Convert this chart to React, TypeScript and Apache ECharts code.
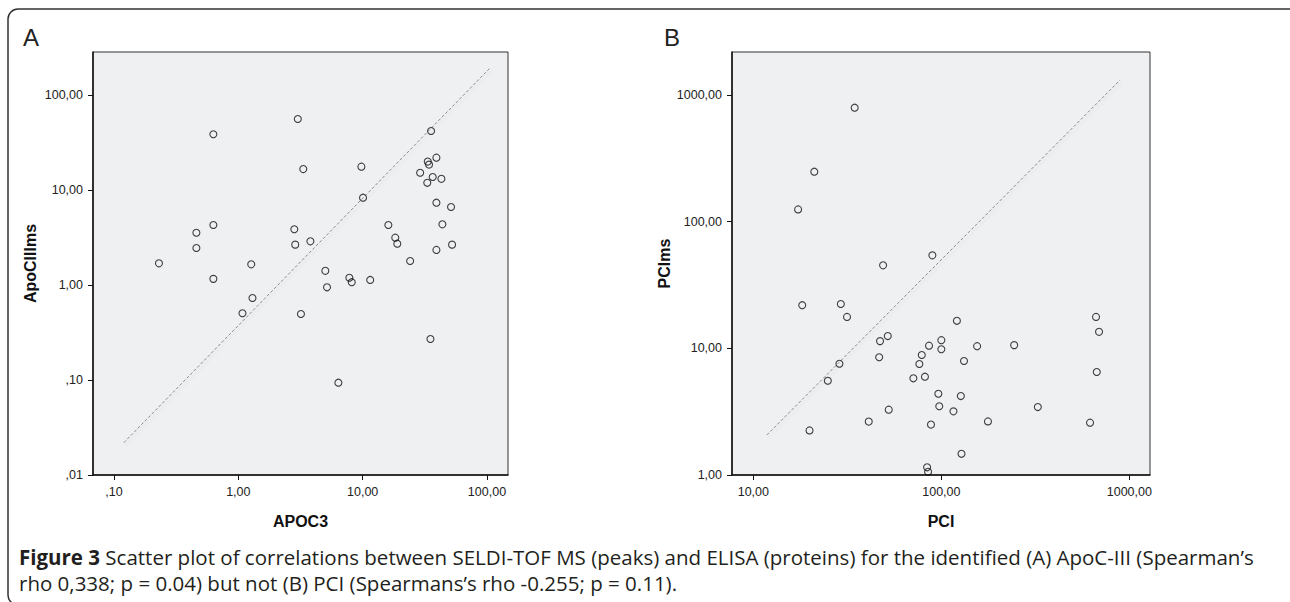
import React, { useEffect, useRef } from "react";
import * as echarts from "echarts";

// Panel A: APOC3 (ELISA) vs ApoCIIIms (SELDI peak)
const apoc3: number[] = [
  0.23, 0.46, 0.46, 0.63, 0.63, 0.63, 1.27, 1.3, 1.08, 3.01, 3.33, 2.82, 2.87, 3.8,
  3.19, 5.01, 5.17, 6.38, 7.82, 8.17, 11.5, 9.77, 10.07, 16.1, 18.3, 19.0, 24.1, 29.0,
  33.1, 33.4, 34.2, 35.5, 36.6, 39.2, 43.0, 39.2, 51.4, 43.8, 39.2, 52.4, 35.1,
];
const apoCIIIms: number[] = [
  1.69, 3.55, 2.45, 38.6, 4.28, 1.16, 1.65, 0.73, 0.504, 55.9, 16.6, 3.86, 2.66, 2.88,
  0.495, 1.41, 0.946, 0.0937, 1.19, 1.07, 1.13, 17.6, 8.3, 4.28, 3.15, 2.72, 1.79, 15.2,
  11.9, 19.9, 18.5, 41.8, 13.7, 21.9, 13.1, 7.35, 6.62, 4.35, 2.34, 2.66, 0.27,
];
// Panel B: PCI (ELISA) vs PCIms (SELDI peak)
const pci: number[] = [
  34.6, 21.1, 17.3, 49.0, 89.6, 18.2, 29.2, 31.5, 121, 665, 690, 51.9, 47.2, 100, 86.0,
  100, 155, 244, 46.7, 78.7, 76.4, 132, 28.7, 24.9, 71.0, 81.8, 671, 96.4, 127, 97.5,
  52.5, 116, 326, 41.1, 177, 618, 88.1, 19.9, 128, 84.0, 85.0,
];
const pciMs: number[] = [
  794, 248, 125, 45.2, 54.2, 21.9, 22.4, 17.7, 16.5, 17.7, 13.5, 12.5, 11.4, 11.6, 10.5,
  9.83, 10.4, 10.6, 8.5, 8.86, 7.52, 7.94, 7.56, 5.55, 5.8, 5.97, 6.5, 4.38, 4.2, 3.49,
  3.28, 3.18, 3.44, 2.64, 2.65, 2.59, 2.5, 2.25, 1.47, 1.15, 1.06,
];
// Reference lines (end points)
const refA: number[][] = [[0.12, 0.0219], [105.2, 191]];
const refB: number[][] = [[11.8, 2.07], [893, 1312]];

const ticksAX = [0.1, 1, 10, 100];
const ticksAY = [0.01, 0.1, 1, 10, 100];
const ticksBX = [10, 100, 1000];
const ticksBY = [1, 10, 100, 1000];

const captionLine1 =
  "Scatter plot of correlations between SELDI-TOF MS (peaks) and ELISA (proteins) for the identified (A) ApoC-III (Spearman\u2019s";
const captionLine2 =
  "rho 0,338; p = 0.04) but not (B) PCI (Spearmans\u2019s rho -0.255; p = 0.11).";

const fmt = (v: number) => {
  const s = Number(v).toFixed(2).replace(".", ",");
  return s.startsWith("0,") ? s.slice(1) : s;
};

const AXF = "Liberation Sans, Arial, sans-serif";
const CAPF = "Open Sans, sans-serif";

function makeX(gridIndex: number, min: number, max: number, ticks: number[], name: string) {
  return {
    gridIndex,
    type: "log",
    logBase: 10,
    min,
    max,
    name,
    nameLocation: "middle",
    nameGap: 38,
    nameTextStyle: { fontFamily: AXF, fontWeight: "bold", fontSize: 16, color: "#111" },
    axisLine: { show: true, onZero: false, lineStyle: { color: "#111", width: 1.5 } },
    axisTick: { show: true, length: 5, customValues: ticks, lineStyle: { color: "#111", width: 1 } },
    axisLabel: { customValues: ticks, formatter: fmt, color: "#222", fontSize: 12.5, fontFamily: AXF, margin: 10 },
    splitLine: { show: false },
    minorTick: { show: false },
  };
}
function makeY(gridIndex: number, min: number, max: number, ticks: number[], name: string) {
  return {
    gridIndex,
    type: "log",
    logBase: 10,
    min,
    max,
    name,
    nameLocation: "middle",
    nameGap: 55,
    nameTextStyle: { fontFamily: AXF, fontWeight: "bold", fontSize: 16, color: "#111" },
    axisLine: { show: true, onZero: false, lineStyle: { color: "#111", width: 1.5 } },
    axisTick: { show: true, length: 5, customValues: ticks, lineStyle: { color: "#111", width: 1 } },
    axisLabel: { customValues: ticks, formatter: fmt, color: "#222", fontSize: 12.5, fontFamily: AXF, margin: 10 },
    splitLine: { show: false },
    minorTick: { show: false },
  };
}

const scatterStyle = {
  type: "scatter",
  symbol: "circle",
  symbolSize: 7,
  itemStyle: { color: "rgba(0,0,0,0)", borderColor: "#111", borderWidth: 1.1 },
  silent: true,
  z: 3,
};
const refStyle = {
  type: "line",
  symbol: "none",
  silent: true,
  z: 2,
  lineStyle: {
    color: "#8a8a8a",
    width: 1,
    type: [3, 2],
    shadowColor: "rgba(0,0,0,0.12)",
    shadowBlur: 3,
    shadowOffsetX: 2,
    shadowOffsetY: 2,
  },
};

export default function App() {
  const ref = useRef<HTMLDivElement>(null);
  useEffect(() => {
    if (!ref.current) return;
    const chart = echarts.init(ref.current, null, { renderer: "svg" });
    const dataA = apoc3.map((x, i) => [x, apoCIIIms[i]]);
    const dataB = pci.map((x, i) => [x, pciMs[i]]);
    chart.setOption({
      animation: false,
      backgroundColor: "#ffffff",
      grid: [
        { left: 93, top: 52, width: 415, height: 423, show: true, backgroundColor: "#eff0f2", borderColor: "#333", borderWidth: 1 },
        { left: 732, top: 52, width: 418, height: 423, show: true, backgroundColor: "#eff0f2", borderColor: "#333", borderWidth: 1 },
      ],
      xAxis: [
        makeX(0, 0.0678, 147.6, ticksAX, "APOC3"),
        makeX(1, 7.7, 1288, ticksBX, "PCI"),
      ],
      yAxis: [
        makeY(0, 0.01, 283.5, ticksAY, "ApoCIIIms"),
        makeY(1, 1, 2185, ticksBY, "PCIms"),
      ],
      series: [
        { ...refStyle, xAxisIndex: 0, yAxisIndex: 0, data: refA },
        { ...refStyle, xAxisIndex: 1, yAxisIndex: 1, data: refB },
        { ...scatterStyle, xAxisIndex: 0, yAxisIndex: 0, data: dataA },
        { ...scatterStyle, xAxisIndex: 1, yAxisIndex: 1, data: dataB },
      ],
      graphic: [
        {
          type: "rect",
          shape: { x: 8, y: 9, width: 1300, height: 596, r: 10 },
          style: { fill: "none", stroke: "#333", lineWidth: 1.5 },
          silent: true,
        },
        {
          type: "text",
          x: 23,
          y: 37,
          style: { text: "A", font: "normal 24px Liberation Sans, Arial, sans-serif", fill: "#222", verticalAlign: "middle" },
        },
        {
          type: "text",
          x: 664,
          y: 37,
          style: { text: "B", font: "normal 24px Liberation Sans, Arial, sans-serif", fill: "#222", verticalAlign: "middle" },
        },
        {
          type: "text",
          x: 19,
          y: 557,
          style: {
            text: "{b|Figure 3} " + captionLine1,
            font: "normal 20.5px " + CAPF,
            fill: "#231f20",
            verticalAlign: "middle",
            rich: { b: { fontWeight: "bold", fontSize: 20.5, fontFamily: CAPF, fill: "#231f20" } },
          },
        },
        {
          type: "text",
          x: 19,
          y: 583,
          style: {
            text: captionLine2,
            font: "normal 20.5px " + CAPF,
            fill: "#231f20",
            verticalAlign: "middle",
          },
        },
      ],
    });
    return () => chart.dispose();
  }, []);
  return (
    <div
      ref={ref}
      style={{ position: "fixed", left: 0, top: 0, width: 1290, height: 602, background: "#fff" }}
    />
  );
}
